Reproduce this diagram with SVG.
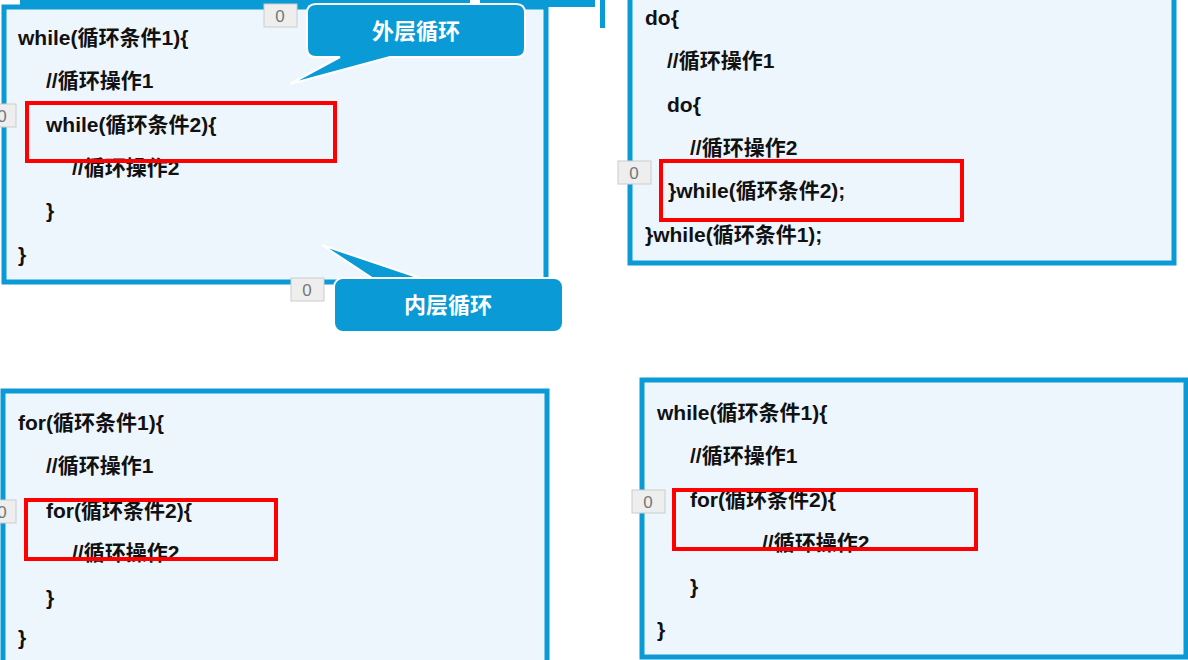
<svg xmlns="http://www.w3.org/2000/svg" width="1188" height="660" viewBox="0 0 1188 660">
<style>
.box{fill:#eef6fd;stroke:#0a9ad6;stroke-width:5}
.red{fill:none;stroke:#f00;stroke-width:4}
.t{font-family:"Liberation Sans","Noto Sans CJK SC",sans-serif;font-size:21px;font-weight:bold;fill:#111}
.z{fill:#eee;stroke:#ccc;stroke-width:1}
.zt{font-family:"Liberation Sans",sans-serif;font-size:17px;fill:#777;text-anchor:middle}
.co{fill:#0a9ad6;stroke:#fff;stroke-width:2}
.ct{font-family:"Noto Sans CJK SC",sans-serif;font-size:22px;font-weight:bold;fill:#fff;text-anchor:middle}
</style>
<g id="top-strip" fill="#0a9ad6">
<rect x="20" y="0" width="450" height="5"/>
<rect x="480" y="0" width="115" height="7"/>
<rect x="600" y="0" width="5" height="28"/>
</g>
<g id="box1">
<rect class="box" x="4" y="7" width="542" height="275"/>
<text class="t" x="18" y="45">while(循环条件1){</text>
<text class="t" x="46" y="88">//循环操作1</text>
<text class="t" x="46" y="132">while(循环条件2){</text>
<text class="t" x="72" y="175">//循环操作2</text>
<text class="t" x="46" y="218">}</text>
<text class="t" x="18" y="262">}</text>
<rect class="red" x="27" y="103" width="308" height="58"/>
</g>
<g id="box2">
<rect class="box" x="630" y="-5" width="544" height="268"/>
<text class="t" x="645" y="25">do{</text>
<text class="t" x="667" y="68">//循环操作1</text>
<text class="t" x="667" y="112">do{</text>
<text class="t" x="690" y="155">//循环操作2</text>
<text class="t" x="668" y="198">}while(循环条件2);</text>
<text class="t" x="645" y="242">}while(循环条件1);</text>
<rect class="red" x="661" y="161" width="301" height="59"/>
</g>
<g id="box3">
<rect class="box" x="3" y="391" width="544" height="275"/>
<text class="t" x="18" y="430">for(循环条件1){</text>
<text class="t" x="46" y="473">//循环操作1</text>
<text class="t" x="46" y="518">for(循环条件2){</text>
<text class="t" x="72" y="560">//循环操作2</text>
<text class="t" x="46" y="605">}</text>
<text class="t" x="18" y="645">}</text>
<rect class="red" x="26" y="500" width="250" height="59"/>
</g>
<g id="box4">
<rect class="box" x="642" y="380" width="544" height="277"/>
<text class="t" x="657" y="420">while(循环条件1){</text>
<text class="t" x="690" y="463">//循环操作1</text>
<text class="t" x="690" y="507">for(循环条件2){</text>
<text class="t" x="762" y="550">//循环操作2</text>
<text class="t" x="690" y="594">}</text>
<text class="t" x="657" y="637">}</text>
<rect class="red" x="674" y="490" width="302" height="59"/>
</g>
<g id="counters">
<rect class="z" x="264" y="4" width="33" height="23"/><text class="zt" x="280" y="22">0</text>
<rect class="z" x="-12" y="104" width="28" height="23"/><text class="zt" x="2" y="122">0</text>
<rect class="z" x="291" y="278" width="33" height="23"/><text class="zt" x="307" y="296">0</text>
<rect class="z" x="618" y="161" width="33" height="23"/><text class="zt" x="634" y="179">0</text>
<rect class="z" x="-12" y="500" width="28" height="23"/><text class="zt" x="2" y="518">0</text>
<rect class="z" x="632" y="490" width="33" height="23"/><text class="zt" x="648" y="508">0</text>
</g>
<g id="callout-outer">
<path class="co" d="M316,4 H516 Q525,4 525,13 V48 Q525,57 516,57 H390 L290,84 L340,57 H316 Q307,57 307,48 V13 Q307,4 316,4 Z"/>
<text class="ct" x="416" y="39">外层循环</text>
</g>
<g id="callout-inner">
<path class="co" d="M342,278 H420 L322,245 L372,278 Z"/>
<rect class="co" x="334" y="278" width="229" height="54" rx="9"/>
<text class="ct" x="448" y="313">内层循环</text>
</g>
</svg>
